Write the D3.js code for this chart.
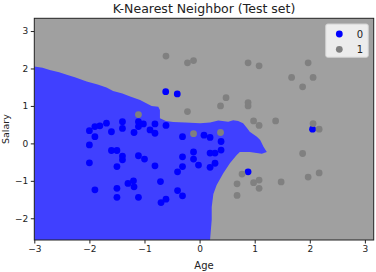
<!DOCTYPE html>
<html><head><meta charset="utf-8">
<script src="https://cdn.jsdelivr.net/npm/d3@7/dist/d3.min.js"></script>
<style>body{margin:0;background:#fff}svg{display:block;font-family:"DejaVu Sans",sans-serif}</style>
</head><body><svg id="c" width="376" height="272"></svg>
<script>
// Data (standardized Age / Salary)
const title = "K-Nearest Neighbor (Test set)";
const xTicks = [-3,-2,-1,0,1,2,3];
const yTicks = [-2,-1,0,1,2,3];
const classLabels = ["0","1"];
const class0 = [[-0.615,1.38],[-0.405,1.32],[-2.00,0.34],[-1.90,0.45],[-1.81,0.47],[-1.69,0.54],[-1.90,0.18],[-1.60,0.31],[-1.40,0.58],[-1.40,0.40],[-1.11,0.58],[-1.02,0.52],[-1.11,0.45],[-1.19,0.29],[-0.90,0.36],[-0.81,0.52],[-0.81,0.27],[-0.61,0.48],[-0.31,0.18],[0.08,0.22],[-2.00,-0.04],[-1.60,-0.19],[-1.50,-0.19],[-1.40,-0.34],[-1.40,-0.44],[-1.11,-0.33],[-1.00,-0.42],[-0.81,-0.60],[-0.31,-0.36],[-0.11,-0.23],[-0.11,-0.42],[-0.02,-0.58],[-0.31,-0.62],[-0.40,-0.76],[-2.00,-0.52],[-1.50,-0.62],[-1.90,-1.24],[-1.50,-1.20],[-1.50,-1.44],[-1.30,-1.07],[-1.20,-1.00],[-1.19,-1.16],[-1.11,-1.44],[-0.71,-1.02],[-0.70,-1.58],[-0.61,-1.49],[-0.40,-1.26],[-0.31,-1.40],[0.19,0.16],[0.39,0.05],[0.39,-0.18],[0.28,-0.26],[0.19,-0.26],[0.28,-0.53],[0.19,-0.64],[0.88,-0.76],[2.05,0.38]];
const class1 = [[-0.61,2.33],[-0.22,2.15],[-0.11,2.21],[-0.22,0.85],[0.48,1.22],[0.38,1.00],[-1.11,0.77],[0.88,2.15],[1.08,2.07],[1.97,2.15],[1.67,1.76],[2.06,1.76],[1.87,1.51],[0.88,1.09],[0.88,1.00],[0.98,0.60],[1.08,0.48],[1.38,0.60],[2.06,0.53],[2.17,0.38],[-0.11,0.26],[0.38,0.29],[1.87,-0.27],[0.77,-0.82],[0.68,-1.08],[0.98,-1.05],[1.08,-0.98],[1.08,-1.20],[0.68,-1.39],[1.48,-1.03],[1.97,-0.90],[2.17,-0.79]];
// Decision region of class 0 (outline in data space)
const region0 = [[-3.0,2.05],[-2.85,2.02],[-2.72,1.96],[-2.55,1.90],[-2.41,1.83],[-2.25,1.76],[-2.05,1.65],[-1.85,1.57],[-1.69,1.49],[-1.57,1.40],[-1.40,1.33],[-1.26,1.25],[-1.08,1.16],[-0.95,1.06],[-0.87,1.00],[-0.75,0.98],[-0.72,0.89],[-0.72,0.67],[-0.61,0.60],[-0.48,0.57],[-0.26,0.56],[0.01,0.54],[0.19,0.56],[0.34,0.61],[0.52,0.58],[0.61,0.62],[0.70,0.60],[0.79,0.54],[0.86,0.41],[0.91,0.31],[1.04,0.18],[1.10,0.09],[1.16,-0.09],[1.22,-0.23],[1.13,-0.28],[0.91,-0.23],[0.73,-0.23],[0.67,-0.32],[0.55,-0.53],[0.43,-0.80],[0.31,-1.11],[0.25,-1.35],[0.22,-1.70],[0.22,-2.04],[0.19,-2.58],[-3.0,-2.58]];
const xDomain = [-3, 3.16], yDomain = [-2.58, 3.34];

const svg = d3.select("#c");
const L=34.3, R=373.7, T=18.3, B=240;
const x = d3.scaleLinear().domain(xDomain).range([L,R]);
const y = d3.scaleLinear().domain(yDomain).range([B,T]);
const g = svg.append("g");
g.append("rect").attr("x",L).attr("y",T).attr("width",R-L).attr("height",B-T).attr("fill","#a0a0a0");
g.append("path").datum(region0).attr("d", d3.line().x(d=>x(d[0])).y(d=>y(d[1]))).attr("fill","#4040ff");
g.selectAll(".p0").data(class0).join("circle").attr("cx",d=>x(d[0])).attr("cy",d=>y(d[1])).attr("r",3.4).attr("fill","#0000ff");
g.selectAll(".p1").data(class1).join("circle").attr("cx",d=>x(d[0])).attr("cy",d=>y(d[1])).attr("r",3.4).attr("fill","#808080");
const fmt = d => (d<0?"\u2212":"")+Math.abs(d);
const xa = svg.append("g").attr("transform",`translate(0,${B})`).call(d3.axisBottom(x).tickValues(xTicks).tickFormat(fmt).tickSize(3.5).tickSizeOuter(0));
const ya = svg.append("g").attr("transform",`translate(${L},0)`).call(d3.axisLeft(y).tickValues(yTicks).tickFormat(fmt).tickSize(3.5).tickSizeOuter(0));
[xa,ya].forEach(a=>{a.select(".domain").remove();a.selectAll("text").attr("font-size",9).attr("fill","#222").attr("font-family","DejaVu Sans");a.selectAll("line").attr("stroke","#222");});
xa.selectAll("text").attr("dy","0.71em").attr("y",6);
ya.selectAll("text").attr("x",-6);
svg.append("rect").attr("x",L).attr("y",T).attr("width",R-L).attr("height",B-T).attr("fill","none").attr("stroke","#222").attr("stroke-width",1);
svg.append("text").attr("x",(L+R)/2).attr("y",13).attr("text-anchor","middle").attr("font-size",12.5).attr("fill","#222").text(title);
svg.append("text").attr("x",(L+R)/2).attr("y",269).attr("text-anchor","middle").attr("font-size",10).attr("fill","#222").text("Age");
svg.append("text").attr("transform",`translate(9,${(T+B)/2}) rotate(-90)`).attr("text-anchor","middle").attr("font-size",9.5).attr("fill","#222").text("Salary");
// legend
const lg = svg.append("g");
lg.append("rect").attr("x",325.7).attr("y",24).attr("width",42.6).attr("height",33.3).attr("rx",2).attr("fill","#ececec").attr("stroke","#d0d0d0");
const colors = ["#0000ff","#808080"];
classLabels.forEach((c,i)=>{
  lg.append("circle").attr("cx",339.3).attr("cy",34+i*15.3).attr("r",3.4).attr("fill",colors[i]);
  lg.append("text").attr("x",363).attr("y",34+i*15.3).attr("dy","0.35em").attr("text-anchor","end").attr("font-size",10).attr("fill","#222").text(c);
});
</script></body></html>
